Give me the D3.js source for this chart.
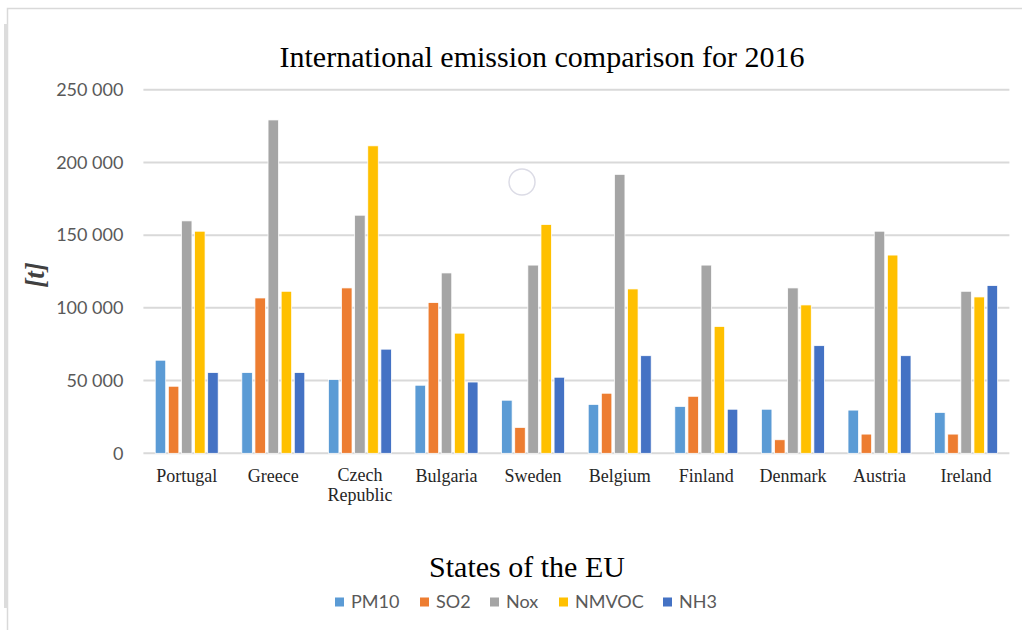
<!DOCTYPE html>
<html lang="en">
<head>
    <meta charset="UTF-8">
    <title>International emission comparison for 2016</title>
    <style>
        body { margin: 0; background: #fff; }
        svg { display: block; }
    </style>
</head>
<body>
    <div id="chart"></div>
    <script src="https://d3js.org/d3.v7.min.js"></script>
    <script>
        const countries = ["Portugal", "Greece", "Czech Republic", "Bulgaria", "Sweden",
                           "Belgium", "Finland", "Denmark", "Austria", "Ireland"];
        const pollutants = ["PM10", "SO2", "Nox", "NMVOC", "NH3"];
        const colors = ["#5B9BD5", "#ED7D31", "#A5A5A5", "#FFC000", "#4472C4"];

        // values in tonnes
        const pm10  = [64000, 55500, 50700, 46800, 36500, 33600, 32200, 30300, 29700, 28100];
        const so2   = [46100, 106800, 113700, 103600, 17800, 41300, 39200, 9300, 13200, 13200];
        const nox   = [159800, 229200, 163700, 124000, 129400, 191800, 129400, 113700, 152700, 111400];
        const nmvoc = [152700, 111400, 211400, 82600, 157300, 113000, 87200, 102000, 136300, 107500];
        const nh3   = [55500, 55500, 71600, 49000, 52300, 67100, 30300, 74000, 67100, 115300];

        const yTicks = [0, 50000, 100000, 150000, 200000, 250000];

        const series = [pm10, so2, nox, nmvoc, nh3];

        const width = 1022, height = 630;
        const margin = {left: 143.4, right: 12.6, top: 89.7, bottom: 176.7};

        const svg = d3.select("#chart").append("svg")
            .attr("width", width)
            .attr("height", height);

        // frame remnants
        svg.append("path")
            .attr("d", "M7.5,630 V8.5 H1022")
            .attr("fill", "none")
            .attr("stroke", "#d9d9d9")
            .attr("stroke-width", 1.5);
        svg.append("rect")
            .attr("x", 4).attr("y", 24).attr("width", 4).attr("height", 584)
            .attr("fill", "#dcdcdc");

        const x0 = d3.scaleBand()
            .domain(countries)
            .range([margin.left, width - margin.right])
            .paddingInner(0.273)
            .paddingOuter(0.1365);

        const x1 = d3.scaleBand()
            .domain(pollutants)
            .range([0, x0.bandwidth()])
            .paddingInner(0.2);

        const y = d3.scaleLinear()
            .domain([0, 250000])
            .range([height - margin.bottom, margin.top]);

        const fmt = d => d3.format(",")(d).replace(/,/g, " ");

        // gridlines
        svg.append("g")
            .selectAll("line")
            .data(yTicks)
            .join("line")
            .attr("x1", margin.left)
            .attr("x2", width - margin.right)
            .attr("y1", d => y(d))
            .attr("y2", d => y(d))
            .attr("stroke", "#d9d9d9")
            .attr("stroke-width", 2);

        // y axis labels
        const yAxis = svg.append("g")
            .attr("transform", `translate(${margin.left - 20},0)`)
            .call(d3.axisLeft(y).tickValues(yTicks).tickFormat(fmt).tickSize(0).tickPadding(0));
        yAxis.select(".domain").remove();
        yAxis.selectAll("text")
            .attr("fill", "#595959")
            .style("font", "18px Lato, 'Open Sans', sans-serif");

        // bars
        const groups = svg.append("g")
            .selectAll("g")
            .data(countries)
            .join("g")
            .attr("transform", d => `translate(${x0(d)},0)`);

        groups.selectAll("rect")
            .data((c, i) => pollutants.map((p, k) => ({p, k, v: series[k][i]})))
            .join("rect")
            .attr("x", d => x1(d.p))
            .attr("y", d => y(d.v))
            .attr("width", x1.bandwidth())
            .attr("height", d => y(0) - y(d.v))
            .attr("fill", d => colors[d.k])
            .attr("stroke", "#fff")
            .attr("stroke-width", 0.75);

        // x labels
        const xLabels = svg.append("g")
            .style("font", "18px 'Liberation Serif', 'Times New Roman', serif")
            .attr("fill", "#262626");
        xLabels.selectAll("text")
            .data(countries)
            .join("text")
            .attr("x", d => x0(d) + x0.bandwidth() / 2)
            .attr("y", d => d === "Czech Republic" ? 481 : 482)
            .attr("text-anchor", "middle")
            .each(function(d) {
                const words = d === "Czech Republic" ? ["Czech", "Republic"] : [d];
                d3.select(this).selectAll("tspan")
                    .data(words)
                    .join("tspan")
                    .attr("x", x0(d) + x0.bandwidth() / 2)
                    .attr("dy", (w, i) => i === 0 ? 0 : 20)
                    .text(w => w);
            });

        // title
        svg.append("text")
            .attr("x", 542)
            .attr("y", 67)
            .attr("text-anchor", "middle")
            .attr("fill", "#000")
            .style("font", "30px 'Liberation Serif', 'Times New Roman', serif")
            .text("International emission comparison for 2016");

        // axis titles
        svg.append("text")
            .attr("transform", "translate(44,275) rotate(-90)")
            .attr("text-anchor", "middle")
            .attr("fill", "#404040")
            .style("font", "italic bold 27px 'Liberation Serif', 'Times New Roman', serif")
            .text("[t]");

        svg.append("text")
            .attr("x", 527)
            .attr("y", 577)
            .attr("text-anchor", "middle")
            .attr("fill", "#000")
            .style("font", "30px 'Liberation Serif', 'Times New Roman', serif")
            .text("States of the EU");

        // legend
        const legendX = [335, 420, 490, 559, 663];
        const legend = svg.append("g")
            .selectAll("g")
            .data(pollutants)
            .join("g")
            .attr("transform", (d, i) => `translate(${legendX[i]},602)`);
        legend.append("rect")
            .attr("x", 0).attr("y", -4.5)
            .attr("width", 9).attr("height", 9)
            .attr("fill", (d, i) => colors[i]);
        legend.append("text")
            .attr("x", 16)
            .attr("dy", "0.35em")
            .attr("fill", "#595959")
            .style("font", "18px Lato, 'Open Sans', sans-serif")
            .text(d => d);

        // stray marker in the picture
        svg.append("circle")
            .attr("cx", 522).attr("cy", 182).attr("r", 13)
            .attr("fill", "none")
            .attr("stroke", "#dcdce6")
            .attr("stroke-width", 1.5);
    </script>
</body>
</html>
